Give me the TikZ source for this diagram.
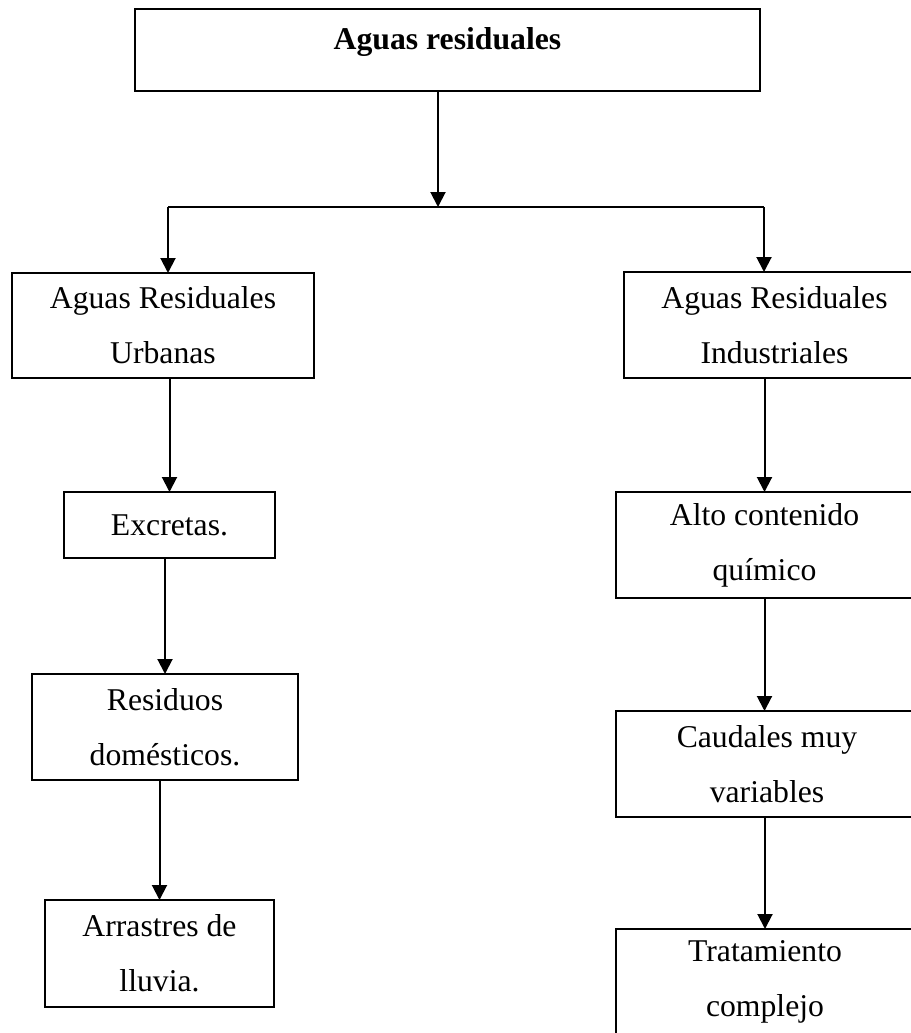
\documentclass[tikz,border=0pt]{standalone}
\usepackage{fontspec}
\setmainfont{Liberation Serif}
\usepackage{tikz}
\usetikzlibrary{arrows.meta, positioning, calc}

\begin{document}
\begin{tikzpicture}[x=1pt, y=-1pt,
    box/.style={rectangle, draw, line width=2pt, inner sep=0pt, outer sep=0pt, align=center, font=\fontsize{31.7}{55}\selectfont},
    line/.style={draw, line width=2pt, -{Triangle[length=15pt, width=15pt]}}
]
    \useasboundingbox (0,0) rectangle (910,1033);

    % Root
    \node [box, minimum width=625pt, minimum height=82pt, text height=22pt, text depth=22pt] (root) at (447.5,50) {\textbf{Aguas residuales}};

    % Two branches
    \node [box, minimum width=302pt, minimum height=105pt] (urbanas) at (163,325.5) {Aguas Residuales\\Urbanas};
    \node [box, minimum width=301pt, minimum height=106pt] (industriales) at (774.5,325) {Aguas Residuales\\Industriales};

    % Left column
    \node [box, minimum width=211pt, minimum height=66pt] (excretas) at (169.5,525) {Excretas.};
    \node [box, minimum width=266pt, minimum height=106pt] (residuos) at (165,727) {Residuos\\domésticos.};
    \node [box, minimum width=229pt, minimum height=107pt] (arrastres) at (159.5,953.5) {Arrastres de\\lluvia.};

    % Right column
    \node [box, minimum width=297pt, minimum height=106pt] (quimico) at (764.5,545) {Alto contenido\\químico};
    \node [box, minimum width=302pt, minimum height=106pt] (caudales) at (767,764) {Caudales muy\\variables};
    \node [box, minimum width=298pt, minimum height=106pt] (tratamiento) at (765,982) {Tratamiento\\complejo};

    % Fork
    \coordinate (fork) at (438,207);
    \coordinate (forkl) at (168,207);
    \coordinate (forkr) at (764,207);
    \path [line] (fork |- root.south) -- (fork);
    \draw [line width=2pt] (forkl) -- (forkr);
    \path [line] (forkl) -- (forkl |- urbanas.north);
    \path [line] (forkr) -- (forkr |- industriales.north);

    % Connections
    \path [line] (excretas.north |- urbanas.south) -- (excretas.north);
    \path [line] (residuos.north |- excretas.south) -- (residuos.north);
    \path [line] (arrastres.north |- residuos.south) -- (arrastres.north);
    \path [line] (quimico.north |- industriales.south) -- (quimico.north);
    \path [line] (quimico.south) -- (quimico.south |- caudales.north);
    \path [line] (tratamiento.north |- caudales.south) -- (tratamiento.north);

\end{tikzpicture}
\end{document}
